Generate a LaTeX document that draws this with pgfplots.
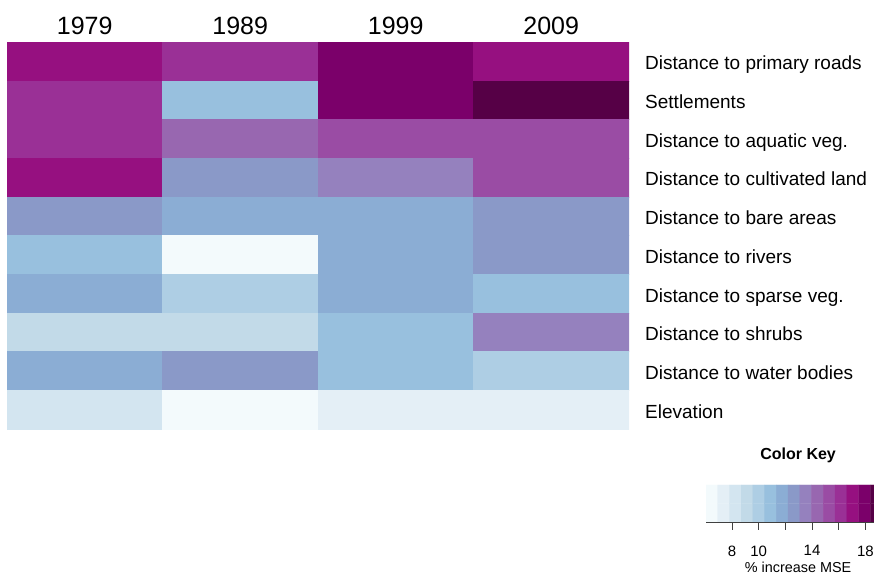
\documentclass[border=0pt]{standalone}
\usepackage{fontspec}
\setmainfont{Liberation Sans}
\usepackage{pgfplots}
\pgfplotsset{compat=1.18}
\usepackage{pgfplotstable}

% % increase MSE per predictor (rows top to bottom) and year
\pgfplotstableread{
x y v
0 0 17.0
1 0 16.2
2 0 17.9
3 0 17.0
0 1 16.2
1 1 10.9
2 1 17.9
3 1 18.8
0 2 16.2
1 2 14.4
2 2 15.3
3 2 15.3
0 3 17.0
1 3 12.6
2 3 13.5
3 3 15.3
0 4 12.6
1 4 11.8
2 4 11.8
3 4 12.6
0 5 10.9
1 5 6.5
2 5 11.8
3 5 12.6
0 6 11.8
1 6 10.0
2 6 11.8
3 6 10.9
0 7 9.1
1 7 9.1
2 7 10.9
3 7 13.5
0 8 11.8
1 8 12.6
2 8 10.9
3 8 10.0
0 9 8.2
1 9 6.5
2 9 7.4
3 9 7.4
}\heat

\pgfplotstableread{
x y v
6.49 0 6.49
7.37 0 7.37
8.25 0 8.25
9.13 0 9.13
10.01 0 10.01
10.89 0 10.89
11.77 0 11.77
12.65 0 12.65
13.53 0 13.53
14.41 0 14.41
15.29 0 15.29
16.17 0 16.17
17.05 0 17.05
17.93 0 17.93
18.81 0 18.81
6.49 1 6.49
7.37 1 7.37
8.25 1 8.25
9.13 1 9.13
10.01 1 10.01
10.89 1 10.89
11.77 1 11.77
12.65 1 12.65
13.53 1 13.53
14.41 1 14.41
15.29 1 15.29
16.17 1 16.17
17.05 1 17.05
17.93 1 17.93
18.81 1 18.81
}\keytab

\pgfplotsset{
  colormap={bupu}{
    rgb255=(243,250,252) rgb255=(228,239,246) rgb255=(211,229,240)
    rgb255=(194,218,232) rgb255=(174,206,228) rgb255=(152,192,222)
    rgb255=(139,173,212) rgb255=(138,153,200) rgb255=(149,129,190)
    rgb255=(152,103,176) rgb255=(154,76,164) rgb255=(154,48,150)
    rgb255=(150,16,128) rgb255=(123,0,106) rgb255=(86,0,70)
  },
}

\begin{document}
\begin{tikzpicture}[x=1pt,y=1pt]
\path[use as bounding box] (0,0) rectangle (874,577);

\begin{axis}[
  at={(7pt,148pt)}, anchor=south west,
  scale only axis, width=622pt, height=387pt,
  xmin=-0.5, xmax=3.5, ymin=-0.5, ymax=9.5,
  y dir=reverse,
  axis line style={draw=none},
  major tick length=0pt,
  xtick={0,1,2,3},
  xticklabels={1979,1989,1999,2009},
  xticklabel pos=upper,
  xticklabel style={anchor=base, inner sep=0pt, yshift=8pt, font=\fontsize{25}{28}\selectfont},
  ytick={0,1,2,3,4,5,6,7,8,9},
  yticklabels={Distance to primary roads, Settlements, Distance to aquatic veg., Distance to cultivated land, Distance to bare areas, Distance to rivers, Distance to sparse veg., Distance to shrubs, Distance to water bodies, Elevation},
  yticklabel pos=right,
  yticklabel style={anchor=base west, inner sep=0pt, xshift=16pt, yshift=-8.5pt, font=\fontsize{19}{22}\selectfont},
  /pgf/number format/assume math mode=true,
  colormap name=bupu,
  colormap access=piecewise constant,
  point meta min=6.05, point meta max=19.25,
]
\addplot[matrix plot*, mesh/cols=4, point meta=explicit] table[meta=v] {\heat};
\end{axis}

\begin{axis}[
  at={(706pt,55pt)}, anchor=south west,
  scale only axis, width=168pt, height=37pt,
  xmin=6.05, xmax=18.65, ymin=-0.5, ymax=1.5,
  axis x line*=bottom, axis y line=none,
  x axis line style={draw=black!75, line width=0.8pt},
  xtick={8,10,12,14,16,18},
  xticklabels={8,10,,14,,18},
  tick align=outside,
  major tick length=8pt,
  xtick style={draw=black!75, line width=0.8pt},
  xticklabel style={yshift=-12pt, font=\fontsize{15}{17}\selectfont},
  /pgf/number format/assume math mode=true,
  title={Color Key},
  title style={at={(rel axis cs:0.548,1)}, anchor=base, yshift=19pt, font=\bfseries\fontsize{16}{19}\selectfont},
  xlabel={\% increase MSE},
  xlabel style={at={(rel axis cs:0.548,0)}, anchor=base, yshift=-51pt, font=\fontsize{14.4}{16}\selectfont},
  colormap name=bupu,
  colormap access=piecewise constant,
  point meta min=6.05, point meta max=19.25,
]
\addplot[matrix plot*, mesh/cols=15, point meta=explicit] table[meta=v] {\keytab};
\end{axis}
\end{tikzpicture}
\end{document}
